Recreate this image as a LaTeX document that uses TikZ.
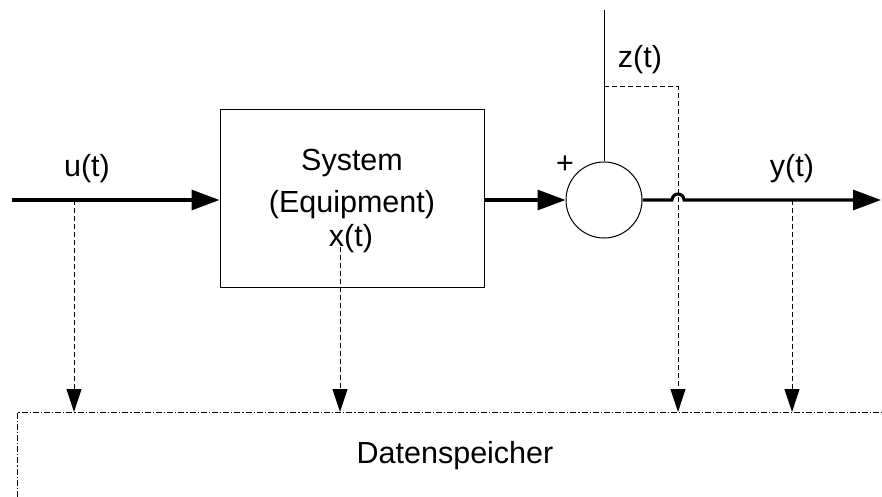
\documentclass[tikz,border=0pt]{standalone}
\usepackage{fontspec}
\setmainfont{Liberation Sans}
\usetikzlibrary{arrows.meta}
\begin{document}
\begin{tikzpicture}[x=1pt,y=-1pt,
  sig/.style={line width=3.1pt, -{Triangle[length=28pt,width=20pt]}},
  hairline/.style={line width=1pt},
  tap/.style={line width=1pt, dash pattern=on 5pt off 3pt, -{Triangle[length=23pt,width=15pt]}},
  store/.style={line width=1pt, dash pattern=on 6pt off 2pt on 1.2pt off 2pt},
  lbl/.style={inner sep=0pt, anchor=base, font=\fontsize{30.5}{36}\selectfont},
]
\useasboundingbox (0,0) rectangle (882,497);

% blocks
\node[draw, hairline, minimum width=264pt, minimum height=177pt, inner sep=0pt] (sys) at (352,198.5) {};
\node[circle, draw, hairline, minimum size=76pt, inner sep=0pt] (sum) at (604,200) {};

% reference points
\coordinate (in) at (12,200);
\coordinate (out) at (881,200);
\coordinate (ztop) at (604,10);
\coordinate (hopL) at (672,200);
\coordinate (zc) at (604,87);
\coordinate (zk) at (678,87);
\coordinate (uTap) at (74,200);
\coordinate (xTap) at (340,247);
\coordinate (yTap) at (792,200);
\coordinate (stL) at (17,497);
\coordinate (stC) at (17,412);
\coordinate (stR) at (882,412);

% signal path
\draw[sig] (in) -- (in -| sys.west);
\draw[sig] (sys.east |- in) -- (sum.west);
\draw[sig] (sum.east) -- (hopL) arc[start angle=180, end angle=0, radius=6pt] -- (out);
\draw[hairline] (sum.north) -- (ztop);

% data store
\draw[store] (stL) -- (stC) -- (stR);

% recorded signals
\draw[tap] (uTap) -- (uTap |- stC);
\draw[tap] (xTap) -- (xTap |- stC);
\draw[tap] (zc) -- (zk) -- (zk |- stC);
\draw[tap] (yTap) -- (yTap |- stC);

% labels
\node[lbl] (u) at (87,176) {u(t)};
\node[lbl] (y) at (792,176) {y(t)};
\node[lbl] (z) at (640,68) {z(t)};
\node[lbl] (plus) at (565,173) {+};
\node[lbl] (sysA) at (352,170) {System};
\node[lbl] (sysB) at (352,212) {(Equipment)};
\node[lbl] (x) at (351,246) {x(t)};
\node[lbl] (ds) at (455,463) {Datenspeicher};
\end{tikzpicture}
\end{document}
